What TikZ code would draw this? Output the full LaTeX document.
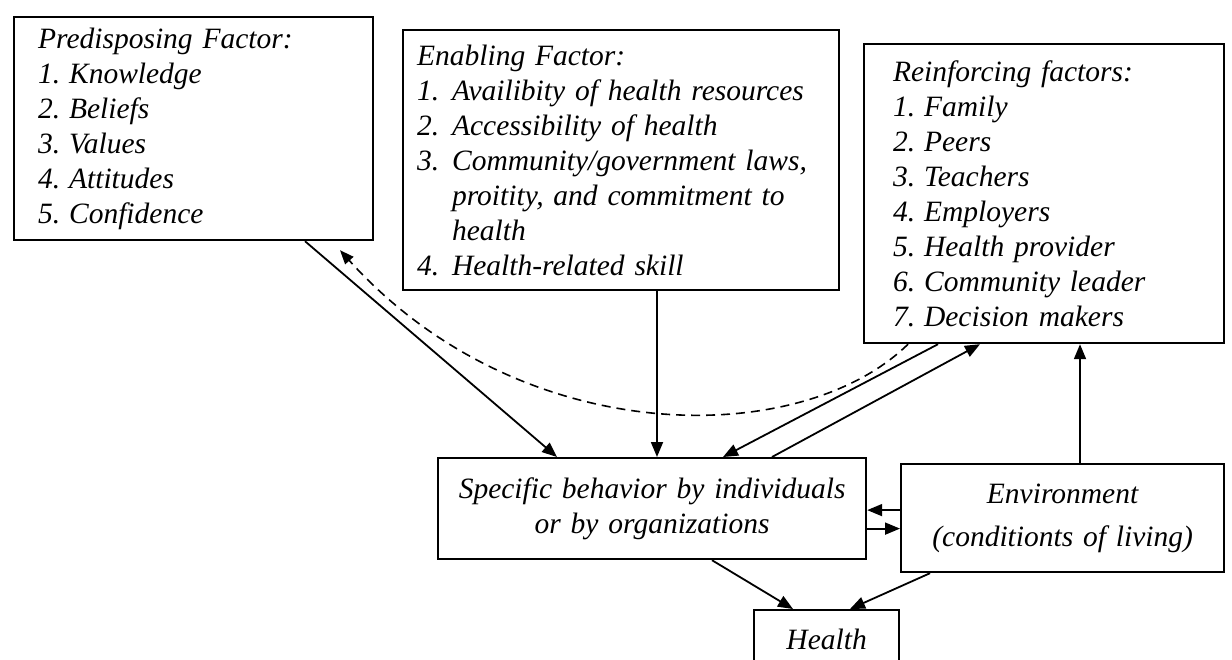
\documentclass[tikz,border=0pt]{standalone}
\usepackage{fontspec}
\setmainfont{Liberation Serif}
\usetikzlibrary{arrows.meta}

% numbered list entry with a fixed hanging indent
\newcommand{\numitem}[2]{\makebox[#1][l]{#2}}

\begin{document}
\begin{tikzpicture}[x=1pt,y=-1pt,
  box/.style={draw, line width=2.2pt, anchor=north west, inner ysep=0pt,
    font=\itshape\fontsize{29.5}{35}\selectfont},
  listbox/.style={box, align=left},
  centerbox/.style={box, align=center, inner xsep=0pt},
  arr/.style={line width=1.8pt, -{Triangle[length=15pt,width=12pt]}},
  dasharr/.style={line width=1.6pt, dash pattern=on 9pt off 6pt,
    -{Triangle[length=14pt,width=11pt]}}
]
\useasboundingbox (0,0) rectangle (1232,659);
\fill[white] (0,0) rectangle (1232,659);
\clip (0,0) rectangle (1232,659);

% the three groups of factors
\node[listbox, minimum width=359pt, minimum height=223pt,
      inner xsep=24pt, text width=311pt] (pred) at (13,16)
  {Predisposing Factor:\\
   \numitem{31pt}{1.}Knowledge\\
   \numitem{31pt}{2.}Beliefs\\
   \numitem{31pt}{3.}Values\\
   \numitem{31pt}{4.}Attitudes\\
   \numitem{31pt}{5.}Confidence};

\node[listbox, minimum width=436pt, minimum height=260pt,
      inner xsep=14pt, text width=408pt] (enab) at (402,29)
  {Enabling Factor:\\
   \numitem{35pt}{1.}Availibity of health resources\\
   \numitem{35pt}{2.}Accessibility of health\\
   \numitem{35pt}{3.}Community/government laws,\\
   \hspace*{35pt}proitity, and commitment to\\
   \hspace*{35pt}health\\
   \numitem{35pt}{4.}Health-related skill};

\node[listbox, minimum width=360pt, minimum height=299pt,
      inner xsep=29pt, text width=302pt] (reinf) at (863,43)
  {Reinforcing factors:\\
   \numitem{31pt}{1.}Family\\
   \numitem{31pt}{2.}Peers\\
   \numitem{31pt}{3.}Teachers\\
   \numitem{31pt}{4.}Employers\\
   \numitem{31pt}{5.}Health provider\\
   \numitem{31pt}{6.}Community leader\\
   \numitem{31pt}{7.}Decision makers};

% behaviour, environment and outcome
\node[centerbox, minimum width=428pt, minimum height=101pt, text width=428pt] (spec) at (437,457)
  {Specific behavior by individuals\\or by organizations};

\node[centerbox, minimum width=323pt, minimum height=108pt, text width=323pt] (env) at (900,463)
  {Environment\\[8pt](conditionts of living)};

\node[centerbox, minimum width=145pt, minimum height=58pt, text width=145pt] (health) at (753,609)
  {Health};

% influences on behaviour
\draw[arr] ([xshift=292pt]pred.south west) -- ([xshift=120pt]spec.north west);
\draw[arr] ([xshift=255pt]enab.south west) -- ([xshift=220pt]spec.north west);
\draw[arr] ([xshift=75pt]reinf.south west) -- ([xshift=286pt]spec.north west);
\draw[arr] ([xshift=335pt]spec.north west) -- ([xshift=117pt]reinf.south west);

% feedback from reinforcing to predisposing factors
\draw[dasharr] ([xshift=45pt]reinf.south west)
  .. controls (800,450) and (520,450) .. ([xshift=327pt,yshift=-9pt]pred.south west);

% environment links
\draw[arr] ([xshift=180pt]env.north west) -- ([xshift=217pt]reinf.south west);
\draw[arr] ([yshift=8pt]env.west) -- ([yshift=8pt]env.west -| spec.east);
\draw[arr] ([yshift=-20pt]spec.east) -- ([yshift=-20pt]spec.east -| env.west);

% effects on health
\draw[arr] ([xshift=275pt]spec.south west) -- ([xshift=40pt]health.north west);
\draw[arr] ([xshift=30pt]env.south west) -- ([xshift=97pt]health.north west);
\end{tikzpicture}
\end{document}
